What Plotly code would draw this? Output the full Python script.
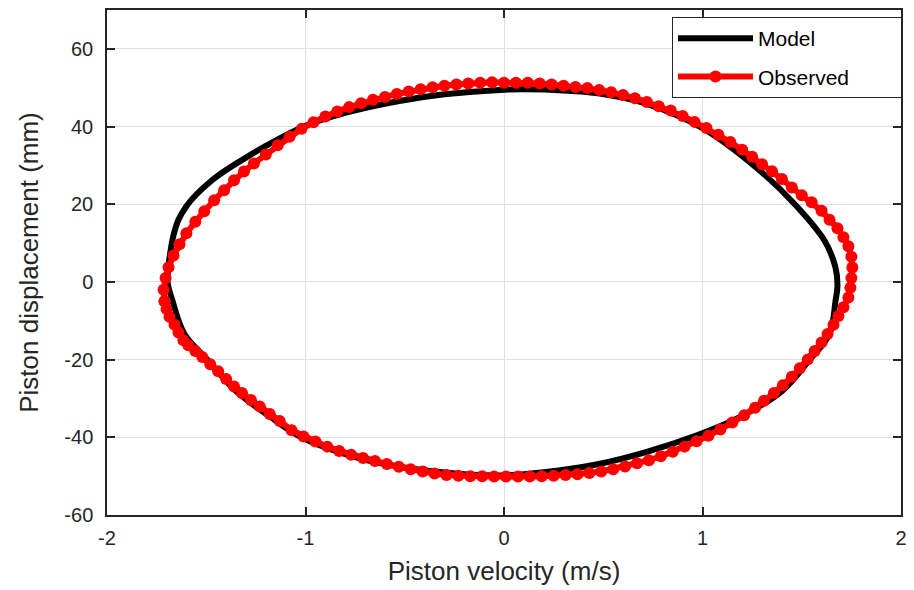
import plotly.graph_objects as go

# Model curve (velocity m/s, displacement mm)
model_v = [-1.695, -1.69, -1.68, -1.665, -1.64, -1.60, -1.55, -1.48, -1.40, -1.30, -1.2, -1.0, -0.8, -0.535, -0.3,
           0.0, 0.1, 0.3, 0.465, 0.715, 1.0, 1.27, 1.465, 1.615, 1.67, 1.68, 1.67, 1.64, 1.54, 1.40, 1.18, 0.965,
           0.715, 0.465, 0.2, 0.0, -0.2, -0.535, -0.735, -1.02, -1.17, -1.35, -1.495, -1.61, -1.67, -1.695]
model_d = [0.0, 4.0, 8.0, 12.0, 16.0, 19.5, 22.5, 25.8, 28.8, 32.0, 35.0, 40.2, 43.5, 46.5, 48.3,
           49.5, 49.6, 49.3, 48.6, 45.9, 39.6, 29.5, 20.0, 10.6, 3.7, -1.0, -4.9, -13.4, -20.0, -28.1, -35.0, -39.6,
           -43.8, -47.0, -49.0, -49.8, -49.5, -47.5, -45.3, -40.0, -35.0, -28.1, -20.0, -13.4, -4.9, 0.0]

# Observed data (velocity m/s, displacement mm)
obs_v = [-1.71, -1.715, -1.705, -1.69, -1.665, -1.635, -1.60, -1.555, -1.51, -1.46, -1.41, -1.36, -1.31, -1.26,
         -1.20, -1.14, -1.08, -1.02, -0.96, -0.90, -0.84, -0.78, -0.72, -0.66, -0.60, -0.54, -0.48, -0.42, -0.36,
         -0.30, -0.24, -0.18, -0.12, -0.06, 0.00, 0.06, 0.12, 0.18, 0.24, 0.30, 0.36, 0.42, 0.48, 0.54, 0.60, 0.66,
         0.72, 0.78, 0.84, 0.90, 0.96, 1.02, 1.08, 1.14, 1.20, 1.25, 1.30, 1.35, 1.40, 1.45, 1.50, 1.55, 1.60,
         1.64, 1.68, 1.71, 1.735, 1.75, 1.755, 1.75, 1.745, 1.735, 1.71, 1.685, 1.66, 1.63, 1.60, 1.565, 1.53,
         1.49, 1.45, 1.405, 1.36, 1.31, 1.265, 1.21, 1.15, 1.09, 1.03, 0.97, 0.91, 0.85, 0.79, 0.73, 0.67, 0.61,
         0.55, 0.49, 0.43, 0.37, 0.31, 0.25, 0.19, 0.13, 0.07, 0.01, -0.05, -0.11, -0.17, -0.23, -0.29, -0.35,
         -0.41, -0.47, -0.53, -0.59, -0.65, -0.71, -0.77, -0.83, -0.89, -0.95, -1.01, -1.07, -1.13, -1.18, -1.23,
         -1.275, -1.32, -1.36, -1.40, -1.44, -1.48, -1.52, -1.555, -1.59, -1.615, -1.64, -1.66, -1.685, -1.70, -1.71]
obs_d = [-5.0, -2.0, 1.0, 3.8, 6.8, 9.7, 12.5, 15.5, 18.2, 21.0, 23.6, 26.2, 28.4, 30.5,
         32.8, 35.2, 37.4, 39.4, 41.1, 42.6, 43.9, 45.0, 46.0, 46.9, 47.6, 48.4, 49.0, 49.6, 50.1,
         50.5, 50.8, 51.1, 51.3, 51.4, 51.3, 51.3, 51.3, 51.1, 50.8, 50.5, 50.2, 49.9, 49.4, 48.8, 48.1, 47.3,
         46.3, 45.2, 44.1, 42.7, 41.2, 39.6, 37.9, 36.0, 34.0, 32.2, 30.3, 28.5, 26.5, 24.3, 22.3, 20.5, 18.3,
         16.0, 13.8, 11.5, 9.2, 6.5, 3.7, 1.0, -1.5, -4.0, -6.5, -8.8, -11.0, -13.4, -15.6, -17.8, -20.0,
         -22.2, -24.4, -26.6, -28.6, -30.6, -32.4, -34.3, -36.2, -38.0, -39.6, -41.0, -42.4, -43.7, -44.9, -45.9,
         -46.7, -47.5, -48.2, -48.8, -49.2, -49.5, -49.7, -49.9, -50.0, -50.1, -50.1, -50.1, -50.1, -50.0, -50.0,
         -49.9, -49.7, -49.3, -48.8, -48.2, -47.6, -46.9, -46.1, -45.3, -44.5, -43.5, -42.4, -41.1, -39.8, -38.2,
         -35.8, -34.0, -32.1, -30.4, -28.6, -26.9, -25.0, -23.0, -21.2, -19.3, -17.8, -16.3, -15.0, -13.0, -11.0,
         -9.0, -7.0, -5.0]

x_ticks = [-2, -1, 0, 1, 2]
y_ticks = [-60, -40, -20, 0, 20, 40, 60]

FONT = "Liberation Sans, Arial, sans-serif"
AX = "#262626"
PAD = "\u00a0" * 8

fig = go.Figure()
fig.add_trace(go.Scatter(x=model_v, y=model_d, mode="lines", name="Model" + PAD, legendgroup="m",
                         line=dict(color="black", width=6, shape="spline", smoothing=1.0)))
fig.add_trace(go.Scatter(x=obs_v, y=obs_d, mode="lines+markers", name="Observed" + PAD, legendgroup="o",
                         line=dict(color="#ff0000", width=6),
                         marker=dict(color="#ff0000", size=12)))

axis_common = dict(showline=True, linecolor=AX, linewidth=1.5, mirror="ticks",
                   ticks="inside", ticklen=8, tickwidth=1.5, tickcolor=AX,
                   showgrid=True, gridcolor="#dfdfdf", gridwidth=1, zeroline=False,
                   tickfont=dict(family=FONT, size=20, color=AX))

fig.update_xaxes(range=[-2, 2], tickvals=x_ticks, ticktext=[str(t) for t in x_ticks],
                 ticklabelstandoff=4,
                 title=dict(text="Piston velocity (m/s)", font=dict(family=FONT, size=26, color=AX), standoff=14),
                 **axis_common)
fig.update_yaxes(range=[-60, 70], tickvals=y_ticks, ticktext=[str(t) for t in y_ticks],
                 ticklabelstandoff=8,
                 title=dict(text="Piston displacement (mm)", font=dict(family=FONT, size=26, color=AX), standoff=18),
                 **axis_common)

fig.update_layout(width=914, height=590, margin=dict(l=107, r=7, t=10, b=75),
                  plot_bgcolor="white", paper_bgcolor="white",
                  font=dict(family=FONT, color=AX),
                  legend=dict(x=1.00125, xanchor="right", y=0.986, yanchor="top",
                              bgcolor="white", bordercolor=AX, borderwidth=1,
                              font=dict(family=FONT, size=21, color="black"),
                              itemwidth=75, tracegroupgap=8))

fig.write_html("out.html")
